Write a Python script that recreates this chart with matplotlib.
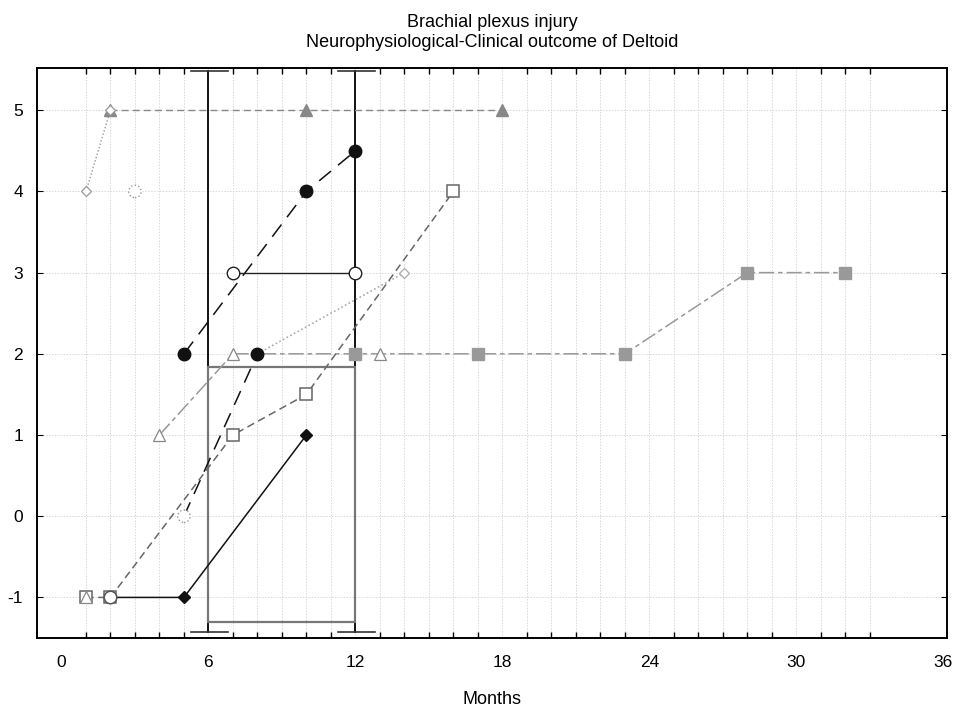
import matplotlib

matplotlib.use("Agg")
import matplotlib.pyplot as plt
import numpy as np
from matplotlib.patches import Rectangle

plt.rcParams["font.family"] = ["Liberation Sans", "DejaVu Sans"]
plt.rcParams["axes.unicode_minus"] = False

TITLE = "Brachial plexus injury\nNeurophysiological-Clinical outcome of Deltoid"

# open light-grey diamonds, dotted
diam_a_x = [1, 2]
diam_a_y = [4, 5]
# filled grey triangles, dashed
tri_f_x = [2, 10, 18]
tri_f_y = [5, 5, 5]
# filled black circles, long dash
circ_f_x = [5, 10, 12]
circ_f_y = [2, 4, 4.5]
# second long dash black series
circ_g_x = [5, 8]
circ_g_y = [0, 2]
# open circles, solid
circ_o_x = [7, 12]
circ_o_y = [3, 3]
# open light diamonds, dotted
diam_b_x = [8, 14]
diam_b_y = [2, 3]
# dotted-edge circles
circ_d_x = [3, 5]
circ_d_y = [4, 0]
# open squares, grey dashed
sq_o_x = [1, 2, 7, 10, 16]
sq_o_y = [-1, -1, 1, 1.5, 4]
# filled black diamonds, solid
diam_k_x = [2, 5, 10]
diam_k_y = [-1, -1, 1]
# open triangles + filled grey squares, dash-dot
path_x = [4, 7, 12, 13, 17, 23, 28, 32]
path_y = [1, 2, 2, 2, 2, 2, 3, 3]
tri_o_x = [1, 4, 7, 13]
tri_o_y = [-1, 1, 2, 2]
sq_f_x = [12, 17, 23, 28, 32]
sq_f_y = [2, 2, 2, 3, 3]
# extra open circle at start of black solid series
start_o_x = [2]
start_o_y = [-1]

# box and whiskers (months)
box_left, box_right = 6, 12
box_low, box_high = -1.3, 1.84
whisk_low, whisk_high = -1.43, 5.48


def main() -> None:
    fig = plt.figure(figsize=(9.55, 7.09), dpi=100)
    ax = fig.add_axes([0.0387, 0.1001, 0.9529, 0.804])

    ax.set_xlim(-1, 36.15)
    ax.set_ylim(-1.5, 5.52)

    for x in range(1, 34):
        ax.axvline(x, color="#d8d8d8", lw=0.7, ls=(0, (1.5, 1.5)), zorder=0)
    for y in range(-1, 6):
        ax.axhline(y, color="#d8d8d8", lw=0.7, ls=(0, (1.5, 1.5)), zorder=0)

    # whiskers
    for xw in (box_left, box_right):
        ax.plot([xw, xw], [whisk_low, whisk_high], color="#111111", lw=1.4, zorder=2)
        ax.plot([xw - 0.7, xw + 0.8], [whisk_high, whisk_high], color="#333333", lw=1.2, zorder=2)
        ax.plot([xw - 0.7, xw + 0.8], [whisk_low, whisk_low], color="#333333", lw=1.2, zorder=2)
    ax.add_patch(Rectangle((box_left, box_low), box_right - box_left, box_high - box_low,
                           fill=False, edgecolor="#777777", lw=1.6, zorder=3))

    ax.plot(diam_a_x, diam_a_y, color="#999999", lw=1, ls=(0, (1, 1.5)), marker="D",
            ms=5, mfc="white", mec="#999999", mew=0.9, zorder=6)
    ax.plot(tri_f_x, tri_f_y, color="#888888", lw=1, ls=(0, (5, 3)), marker="^",
            ms=8, mfc="#888888", mec="#888888", zorder=5)
    ax.plot(circ_f_x, circ_f_y, color="#111111", lw=1.1, ls=(0, (10, 6)), marker="o",
            ms=9, mfc="#111111", mec="#111111", zorder=5)
    ax.plot(circ_g_x, circ_g_y, color="#111111", lw=1.1, ls=(0, (10, 6)), marker="o",
            ms=9, mfc="#111111", mec="#111111", markevery=[1], zorder=5)
    ax.plot(circ_o_x, circ_o_y, color="#222222", lw=1, marker="o",
            ms=9, mfc="white", mec="#222222", mew=1, zorder=5)
    ax.plot(diam_b_x, diam_b_y, color="#aaaaaa", lw=1.2, ls=(0, (1, 1.5)), marker="D",
            ms=5, mfc="white", mec="#aaaaaa", mew=0.9, markevery=[1], zorder=4)
    ax.plot(sq_o_x, sq_o_y, color="#666666", lw=1.1, ls=(0, (5, 3)), marker="s",
            ms=9, mfc="white", mec="#666666", mew=1.1, zorder=5)
    ax.plot(diam_k_x, diam_k_y, color="#111111", lw=1.1, marker="D",
            ms=6, mfc="#111111", mec="#111111", markevery=[1, 2], zorder=5)
    ax.plot(path_x, path_y, color="#999999", lw=1.1, ls=(0, (10, 2.5, 3, 2.5)), zorder=4)
    ax.plot(tri_o_x, tri_o_y, ls="none", marker="^", ms=8, mfc="white",
            mec="#888888", mew=0.9, zorder=6)
    ax.plot(sq_f_x, sq_f_y, ls="none", marker="s", ms=9, mfc="#999999",
            mec="#999999", zorder=6)
    ax.plot(start_o_x, start_o_y, ls="none", marker="o", ms=9, mfc="white",
            mec="#555555", mew=1.1, zorder=7)
    ax.scatter(circ_d_x, circ_d_y, s=80, facecolors="white", edgecolors="#999999",
               linewidths=1, linestyles=":", zorder=7)

    ax.set_xticks(np.arange(0, 37, 6))
    ax.set_xticks(np.arange(1, 34), minor=True)
    ax.set_yticks(np.arange(-1, 6))
    ax.tick_params(axis="x", which="major", length=0, pad=12, labelsize=12.5)
    ax.tick_params(axis="x", which="minor", direction="in", length=4, top=True, width=1)
    ax.tick_params(axis="y", direction="in", length=4, right=True, labelsize=12.5, pad=10)
    for s in ax.spines.values():
        s.set_linewidth(1.4)

    ax.set_xlabel("Months", fontsize=13, labelpad=15)
    ax.set_title(TITLE, fontsize=13, pad=15, linespacing=1.25)

    fig.savefig("out.png", dpi=100)
    plt.close(fig)


if __name__ == "__main__":
    main()
